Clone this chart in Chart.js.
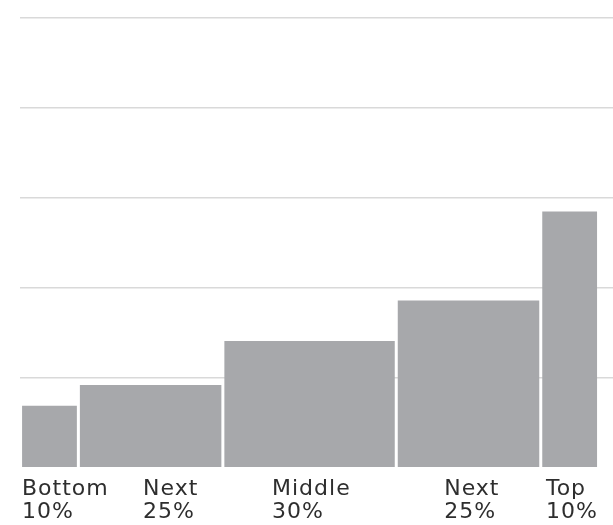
<!DOCTYPE html>
<html>
<head>
<meta charset="utf-8">
<script src="https://cdn.jsdelivr.net/npm/chart.js@4"></script>
<style>
	body { margin: 0; background: #fff; }
	#box { width: 613px; height: 525px; }
</style>
</head>
<body>
<div id="box"><canvas id="chart"></canvas></div>
<script>
// ----------------------------------------------------------------------
// income groups: share of population (%) and bar height
const groups = ["Bottom", "Next", "Middle", "Next", "Top"]
const shares = ["10%", "25%", "30%", "25%", "10%"]
const widths = [10, 25, 30, 25, 10]
const values = [0.69, 0.92, 1.41, 1.86, 2.85]

// label indent from the group's left edge (x units)
const label_indent = [0.25, 11.2, 8.5, 8.3, 0.9]

// ----------------------------------------------------------------------
const starts = []
const ends = []
let acc = 0
for (const w of widths)
	{
	starts.push(acc)
	acc += w
	ends.push(acc)
	}
const centers = starts.map((s, i) => (s + ends[i]) / 2)

// bars take their width from the x scale
const variable_width = {
	id: 'variable_width',
	afterDatasetsUpdate (chart)
		{
		const xs = chart.scales.x
		const meta = chart.getDatasetMeta(0)
		meta.data.forEach((bar, i) =>
			{
			const x0 = xs.getPixelForValue(starts[i]) + 1.5
			const x1 = xs.getPixelForValue(ends[i]) - 1.5
			bar.x = (x0 + x1) / 2
			bar.width = x1 - x0
			})
		},
	beforeDraw (chart)
		{
		chart.ctx.letterSpacing = '1px'
		}
	}

const config = {
	type: 'bar',
	data: {
		datasets: [{
			data: centers.map((c, i) => ({x: c, y: values[i]})),
			backgroundColor: '#a7a8ab',
			borderWidth: 0
			}]
		},
	options: {
		animation: false,
		responsive: true,
		maintainAspectRatio: false,
		layout: { padding: { top: 18, left: 20, right: 0, bottom: 0 } },
		plugins: { legend: { display: false }, tooltip: { enabled: false } },
		scales: {
			x: {
				type: 'linear',
				offset: false,
				min: -0.1,
				max: 102.5,
				grid: { display: false },
				border: { display: false },
				afterBuildTicks: (scale) =>
					{
					scale.ticks = starts.map((s, i) => ({value: s + label_indent[i]}))
					},
				ticks: {
					autoSkip: false,
					maxRotation: 0,
					align: 'start',
					padding: 1.5,
					color: '#2e2e2e',
					font: { family: 'DejaVu Sans', size: 22, lineHeight: 1.05 },
					callback: (v, i) => [groups[i], shares[i]]
					}
				},
			y: {
				min: 0,
				max: 5,
				ticks: { display: false, stepSize: 1 },
				border: { display: false },
				grid: {
					drawTicks: false,
					lineWidth: 1.5,
					color: (ctx) => ctx.tick.value === 0 ? 'rgba(0,0,0,0)' : '#d9d9d9'
					}
				}
			}
		},
	plugins: [variable_width]
	}

new Chart(document.getElementById('chart'), config)
// ----------------------------------------------------------------------
</script>
</body>
</html>
